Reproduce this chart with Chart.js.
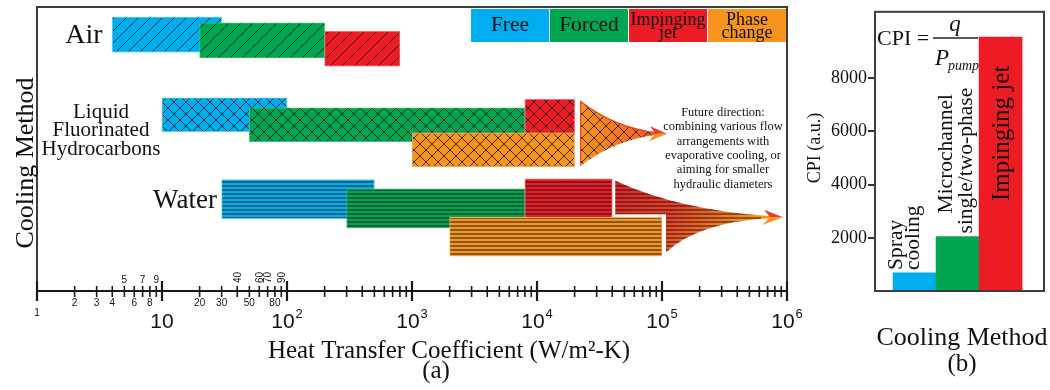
<!DOCTYPE html>
<html>
<head>
<meta charset="utf-8">
<title>Cooling methods: heat transfer coefficient and CPI</title>
<script src="https://cdn.jsdelivr.net/npm/chart.js@4.4.0/dist/chart.umd.min.js"></script>
<style>
  html, body { margin: 0; padding: 0; background: #fff; }
  #wrap { position: relative; width: 1050px; height: 390px; overflow: hidden; }
  #ca { position: absolute; left: 0; top: 0; }
  #cb { position: absolute; left: 800px; top: 0; }
</style>
</head>
<body>
<div id="wrap">
  <canvas id="ca" width="820" height="390"></canvas>
  <canvas id="cb" width="250" height="390"></canvas>
</div>
<script>
// ---------------- data: panel (a) ----------------
const rowNames = ['Air', 'Liquid Fluorinated Hydrocarbons', 'Water'];
const seriesNames = ['Free', 'Forced', 'Impinging jet', 'Phase change'];

// heat transfer coefficient span (W/m²-K) of each method, [low, high], one entry per row
const freeRange   = [[4, 30],    [10, 100],      [30, 500]];
const forcedRange = [[20, 200],  [50, 8000],     [300, 8000]];
const jetRange    = [[200, 800], [8000, 20000],  [8000, 40000]];
const phaseRange  = [null,       [1000, 20000],  [2000, 100000]];

// vertical lane of each bar, in row units counted from the top
const freeLane   = [0.33, 1.29, 2.30];
const forcedLane = [0.40, 1.41, 2.41];
const jetLane    = [0.50, 1.31, 2.29];
const phaseLane  = [null, 1.71, 2.75];

// reach of the "future direction" arrows
const futureTip = [null, 110000, 930000];

// x-axis tick labels
const minorBelow = [2, 3, 4, 6, 8, 20, 30, 50, 80];
const minorAbove = [5, 7, 9];
const minorAboveTurned = [40, 60, 70, 90];
const decadeExponents = [1, 2, 3, 4, 5, 6];

const futureNote = ['Future direction:', 'combining various flow', 'arrangements with',
                    'evaporative cooling, or', 'aiming for smaller', 'hydraulic diameters'];

// ---------------- data: panel (b) ----------------
const cpiMethods = [['Spray', 'cooling'], ['Microchannel', 'single/two-phase'], ['Impinging jet']];
const cpiValues = [680, 2050, 9550];
const cpiTicks = [2000, 4000, 6000, 8000, 10000];
const cpiTickLabels = ['2000', '4000', '6000', '8000', ''];

// ---------------- styles ----------------
const SERIF = '"Liberation Serif", "Times New Roman", Times, serif';
const SANS = '"Liberation Sans", Arial, Helvetica, sans-serif';
const seriesFill = ['#00aeef', '#00a651', '#ed1c24', '#f7941d'];
const seriesEdge = ['#5ccaf3', '#45bb79', '#f3656b', '#fbb05a'];
const rowHatch = ['diag', 'cross', 'lines'];
const rowThickness = [35, 34, 39];

Chart.defaults.font.family = SERIF;

const canvasA = document.getElementById('ca');
const ctxA = canvasA.getContext('2d');

function makeHatch(kind, fill) {
  const c = document.createElement('canvas');
  const w = kind === 'lines' ? 8 : 12;
  const h = kind === 'lines' ? 4 : 12;
  c.width = w; c.height = h;
  const g = c.getContext('2d');
  if (fill) { g.fillStyle = fill; g.fillRect(0, 0, w, h); }
  g.strokeStyle = 'rgba(25,25,25,0.82)';
  g.lineWidth = kind === 'lines' ? 1.2 : 1;
  g.beginPath();
  if (kind === 'lines') {
    g.moveTo(0, 2); g.lineTo(w, 2);
  } else {
    g.moveTo(-2, h + 2); g.lineTo(w + 2, -2);
    g.moveTo(-2, 2); g.lineTo(2, -2);
    g.moveTo(w - 2, h + 2); g.lineTo(w + 2, h - 2);
    if (kind === 'cross') {
      g.moveTo(-2, -2); g.lineTo(w + 2, h + 2);
      g.moveTo(w - 2, -2); g.lineTo(w + 2, 2);
      g.moveTo(-2, h - 2); g.lineTo(2, h + 2);
    }
  }
  g.stroke();
  return ctxA.createPattern(c, 'repeat');
}

// one floating bar per (series, row)
const seriesRanges = [freeRange, forcedRange, jetRange, phaseRange];
const seriesLanes = [freeLane, forcedLane, jetLane, phaseLane];
const datasetsA = [];
seriesNames.forEach((name, si) => {
  rowNames.forEach((row, ri) => {
    const range = seriesRanges[si][ri];
    if (!range) return;
    datasetsA.push({
      label: name + ' / ' + row,
      data: [{ x: range, y: seriesLanes[si][ri] }],
      backgroundColor: makeHatch(rowHatch[ri], seriesFill[si]),
      borderColor: seriesEdge[si],
      borderWidth: 1,
      borderSkipped: false,
      barThickness: rowThickness[ri],
      grouped: false,
      order: 10 - si
    });
  });
});

function line(ctx, x1, y1, x2, y2) {
  ctx.beginPath(); ctx.moveTo(x1, y1); ctx.lineTo(x2, y2); ctx.stroke();
}

function arrowHead(ctx, tipX, y, len, half) {
  ctx.fillStyle = '#ef3b24';
  ctx.beginPath();
  ctx.moveTo(tipX, y); ctx.lineTo(tipX - len, y - half); ctx.lineTo(tipX - len * 0.68, y);
  ctx.closePath(); ctx.fill();
  ctx.fillStyle = '#f7941d';
  ctx.beginPath();
  ctx.moveTo(tipX, y); ctx.lineTo(tipX - len * 0.68, y); ctx.lineTo(tipX - len * 1.1, y + half * 1.05);
  ctx.closePath(); ctx.fill();
}

function drawFuture(chart) {
  const ctx = chart.ctx;
  const xs = chart.scales.x, ys = chart.scales.y;
  const edges = (lane, ri) => {
    const c = ys.getPixelForValue(lane);
    return [c - rowThickness[ri] / 2, c + rowThickness[ri] / 2];
  };
  const crossInk = makeHatch('cross', null);
  const lineInk = makeHatch('lines', null);

  // liquid fluorinated hydrocarbons
  {
    const ri = 1;
    const top = edges(jetLane[ri], ri)[0] + 2;
    const bottom = edges(phaseLane[ri], ri)[1] - 1;
    const left = xs.getPixelForValue(jetRange[ri][1]) + 6;
    const tip = xs.getPixelForValue(futureTip[ri]);
    const mid = (top + bottom) / 2, half = (bottom - top) / 2;
    const cx = left + 0.39 * (tip - left), end = tip - 10;
    const body = new Path2D();
    body.moveTo(left, top);
    body.quadraticCurveTo(cx, mid - 0.19 * half, end, mid - 0.8);
    body.lineTo(end, mid + 0.8);
    body.quadraticCurveTo(cx, mid + 0.19 * half, left, bottom);
    body.closePath();
    const g = ctx.createLinearGradient(left, 0, tip, 0);
    g.addColorStop(0, '#f7941d'); g.addColorStop(0.7, '#f26522'); g.addColorStop(1, '#ef4123');
    ctx.save();
    ctx.fillStyle = g; ctx.fill(body);
    ctx.clip(body);
    ctx.fillStyle = crossInk; ctx.fillRect(left, top, tip - left, bottom - top);
    ctx.restore();
    ctx.save();
    ctx.strokeStyle = '#ef4123'; ctx.lineWidth = 1.2;
    ctx.beginPath(); ctx.moveTo(left, bottom); ctx.lineTo(left, top);
    ctx.quadraticCurveTo(cx, mid - 0.19 * half, end, mid - 0.8); ctx.stroke();
    arrowHead(ctx, tip, mid, 17, 7.5);
    ctx.restore();
  }

  // water
  {
    const ri = 2;
    const jetE = edges(jetLane[ri], ri), phE = edges(phaseLane[ri], ri);
    const top = jetE[0] + 2;
    const stepY = phE[0] - 3;
    const bottom = phE[1] - 4;
    const tipY = phE[0];
    const left = xs.getPixelForValue(jetRange[ri][1]) + 3;
    const stepX = xs.getPixelForValue(phaseRange[ri][1]) + 4;
    const tip = xs.getPixelForValue(futureTip[ri]);
    const end = tip - 12;
    const body = new Path2D();
    body.moveTo(left, top);
    body.quadraticCurveTo(left + 0.38 * (tip - left), tipY - 7, end, tipY - 0.9);
    body.lineTo(end, tipY + 0.9);
    body.quadraticCurveTo(stepX + 0.28 * (tip - stepX), tipY + 5, stepX, bottom);
    body.lineTo(stepX, stepY);
    body.lineTo(left, stepY);
    body.closePath();
    const g = ctx.createLinearGradient(left, top, stepX + 50, bottom + 10);
    g.addColorStop(0, '#e2232a'); g.addColorStop(0.5, '#ec4026'); g.addColorStop(1, '#f7941d');
    ctx.save();
    ctx.fillStyle = g; ctx.fill(body);
    ctx.clip(body);
    ctx.fillStyle = lineInk; ctx.fillRect(left, top, end - 10 - left, bottom - top);
    ctx.restore();
    ctx.save();
    arrowHead(ctx, tip, tipY, 19, 7.5);
    ctx.restore();
  }
}

function drawAxisA(chart) {
  const ctx = chart.ctx, ca = chart.chartArea, xs = chart.scales.x;
  const axisY = ca.bottom;
  const px = v => xs.getPixelForValue(v);
  ctx.save();
  // frame
  ctx.strokeStyle = '#3d3d3d'; ctx.lineWidth = 2;
  ctx.beginPath();
  ctx.moveTo(ca.left, axisY); ctx.lineTo(ca.left, ca.top);
  ctx.lineTo(ca.right, ca.top); ctx.lineTo(ca.right, axisY);
  ctx.stroke();
  // axis line and ticks
  ctx.strokeStyle = '#1a1a1a';
  ctx.lineWidth = 2; line(ctx, ca.left, axisY, ca.right, axisY);
  for (let e = 0; e <= 6; e++) {
    const x = px(Math.pow(10, e));
    ctx.lineWidth = 2.2; line(ctx, x, axisY - 10, x, axisY + 10);
  }
  for (let e = 0; e < 6; e++) {
    for (let m = 2; m <= 9; m++) {
      const x = px(m * Math.pow(10, e));
      ctx.lineWidth = 1.6; line(ctx, x, axisY - 5, x, axisY + 6);
    }
  }
  // tick labels
  ctx.fillStyle = '#111';
  ctx.font = `10px ${SANS}`;
  ctx.textAlign = 'center'; ctx.textBaseline = 'alphabetic';
  ctx.fillText('1', px(1), axisY + 25);
  minorBelow.forEach(v => ctx.fillText(String(v), px(v), axisY + 15));
  minorAbove.forEach(v => ctx.fillText(String(v), px(v), axisY - 8));
  minorAboveTurned.forEach(v => {
    ctx.save();
    ctx.translate(px(v) + 3.5, axisY - 8);
    ctx.rotate(-Math.PI / 2);
    ctx.textAlign = 'left';
    ctx.fillText(String(v), 0, 0);
    ctx.restore();
  });
  decadeExponents.forEach(e => {
    const x = px(Math.pow(10, e));
    const sup = e === 1 ? '' : String(e);
    ctx.font = `21px ${SANS}`;
    const w1 = ctx.measureText('10').width;
    ctx.font = `13px ${SANS}`;
    const w2 = sup ? ctx.measureText(sup).width + 1 : 0;
    const x0 = x - (w1 + w2) / 2;
    ctx.textAlign = 'left';
    ctx.font = `21px ${SANS}`;
    ctx.fillText('10', x0, axisY + 37);
    if (sup) { ctx.font = `13px ${SANS}`; ctx.fillText(sup, x0 + w1 + 1, axisY + 27); }
  });
  ctx.restore();
}

function drawTextsA(chart) {
  const ctx = chart.ctx;
  ctx.save();
  ctx.fillStyle = '#111';
  ctx.textAlign = 'center'; ctx.textBaseline = 'alphabetic';

  // row names
  ctx.font = `28px ${SERIF}`; ctx.fillText(rowNames[0], 84, 43);
  ctx.font = `21px ${SERIF}`;
  rowNames[1].split(' ').forEach((t, i) => ctx.fillText(t, 101, 118 + 18.4 * i));
  ctx.font = `27px ${SERIF}`; ctx.fillText(rowNames[2], 185, 208);

  // axis titles
  ctx.font = `25px ${SERIF}`;
  ctx.fillText('Heat Transfer Coefficient (W/m²-K)', 449, 358);
  ctx.fillText('(a)', 436, 378);
  ctx.save();
  ctx.translate(33, 163); ctx.rotate(-Math.PI / 2);
  ctx.font = `26px ${SERIF}`;
  ctx.fillText('Cooling Method', 0, 0);
  ctx.restore();

  // legend
  const boxW = 78, boxL = 471, boxT = 9, boxH = 33;
  seriesNames.forEach((name, i) => {
    const x0 = boxL + i * (boxW + 1);
    ctx.fillStyle = seriesFill[i];
    ctx.fillRect(x0, boxT, boxW, boxH);
    ctx.fillStyle = '#111';
    const words = name.split(' ');
    const cx = x0 + boxW / 2;
    if (words.length === 1) {
      ctx.font = `21.5px ${SERIF}`;
      ctx.fillText(name, cx, 31);
    } else {
      ctx.font = `18px ${SERIF}`;
      ctx.fillText(words[0], cx, 24.5);
      ctx.fillText(words[1], cx, 37.5);
    }
  });

  // note on the arrows
  ctx.font = `12.5px ${SERIF}`;
  futureNote.forEach((t, i) => ctx.fillText(t, 723, 116 + 14.3 * i));
  ctx.restore();
}

new Chart(canvasA, {
  type: 'bar',
  data: { datasets: datasetsA },
  options: {
    indexAxis: 'y',
    responsive: false,
    animation: false,
    events: [],
    layout: { padding: { left: 37, right: 33, top: 7, bottom: 99 } },
    scales: {
      x: { type: 'logarithmic', min: 1, max: 1000000, display: false },
      y: { type: 'linear', min: 0, max: 3.4, reverse: true, display: false,
           offset: false, bounds: 'data' }
    },
    plugins: { legend: { display: false }, tooltip: { enabled: false } }
  },
  plugins: [{
    id: 'panelA',
    beforeDatasetsDraw: drawFuture,
    afterDatasetsDraw(chart) { drawAxisA(chart); drawTextsA(chart); }
  }]
});

// ---------------- panel (b) ----------------
const cpiLabelStyle = [
  { size: 21.5, dx: [-13, 4.5], dy: [-3, -3] },
  { size: 21.5, dx: [-6, 14.5], dy: [-23, -3] },
  { size: 25, dx: [8], dy: [164] }
];

function drawPanelB(chart) {
  const ctx = chart.ctx, ca = chart.chartArea;
  const meta = chart.getDatasetMeta(0);
  ctx.save();
  ctx.strokeStyle = '#3d3d3d'; ctx.lineWidth = 2;
  ctx.strokeRect(ca.left, ca.top, ca.right - ca.left, ca.bottom - ca.top);

  ctx.fillStyle = '#111';
  ctx.textBaseline = 'alphabetic';
  // method names along the bars
  meta.data.forEach((bar, i) => {
    const st = cpiLabelStyle[i];
    ctx.font = `${st.size}px ${SERIF}`;
    cpiMethods[i].forEach((t, k) => {
      ctx.save();
      ctx.translate(bar.x + st.dx[k], bar.y + st.dy[k]);
      ctx.rotate(-Math.PI / 2);
      ctx.textAlign = 'left';
      ctx.fillText(t, 0, 0);
      ctx.restore();
    });
  });

  // CPI = q / P_pump
  ctx.textAlign = 'left';
  ctx.font = `22px ${SERIF}`;
  ctx.fillText('CPI =', 77, 45);
  ctx.strokeStyle = '#222'; ctx.lineWidth = 1.4;
  line(ctx, 133, 38, 178, 38);
  ctx.font = `italic 23px ${SERIF}`;
  ctx.textAlign = 'center';
  ctx.fillText('q', 155, 31);
  ctx.textAlign = 'left';
  ctx.fillText('P', 135, 65);
  ctx.font = `italic 14px ${SERIF}`;
  ctx.fillText('pump', 148, 70);

  // axis titles
  ctx.textAlign = 'center';
  ctx.save();
  ctx.translate(20, 148); ctx.rotate(-Math.PI / 2);
  ctx.font = `18px ${SERIF}`;
  ctx.fillText('CPI (a.u.)', 0, 0);
  ctx.restore();
  ctx.font = `26px ${SERIF}`;
  ctx.fillText('Cooling Method', 162, 345);
  ctx.font = `25px ${SERIF}`;
  ctx.fillText('(b)', 162, 371);
  ctx.restore();
}

new Chart(document.getElementById('cb'), {
  type: 'bar',
  data: {
    datasets: [{
      label: 'CPI',
      data: cpiValues.map((v, i) => ({ x: i + 1, y: v })),
      backgroundColor: seriesFill.slice(0, 3),
      borderWidth: 0,
      barPercentage: 1,
      categoryPercentage: 1
    }]
  },
  options: {
    responsive: false,
    animation: false,
    events: [],
    layout: { padding: { left: 0, right: 6, top: 7, bottom: 99 } },
    scales: {
      x: {
        type: 'linear', min: 0.08, max: 4.01, display: false,
        offset: false, bounds: 'data',
        afterBuildTicks(scale) { scale.ticks = cpiValues.map((v, i) => ({ value: i + 1 })); }
      },
      y: {
        min: 0, max: 10500, offset: false, bounds: 'data',
        afterBuildTicks(scale) { scale.ticks = cpiTicks.map(v => ({ value: v })); },
        afterFit(scale) { scale.width = 75; },
        border: { display: false },
        grid: { drawOnChartArea: false, tickLength: 7, lineWidth: 2, color: '#333' },
        ticks: {
          padding: 1, color: '#111',
          font: { family: SERIF, size: 18 },
          callback: (v, i) => cpiTickLabels[i] || null
        }
      }
    },
    plugins: { legend: { display: false }, tooltip: { enabled: false } }
  },
  plugins: [{ id: 'panelB', afterDatasetsDraw: drawPanelB }]
});
</script>
</body>
</html>
